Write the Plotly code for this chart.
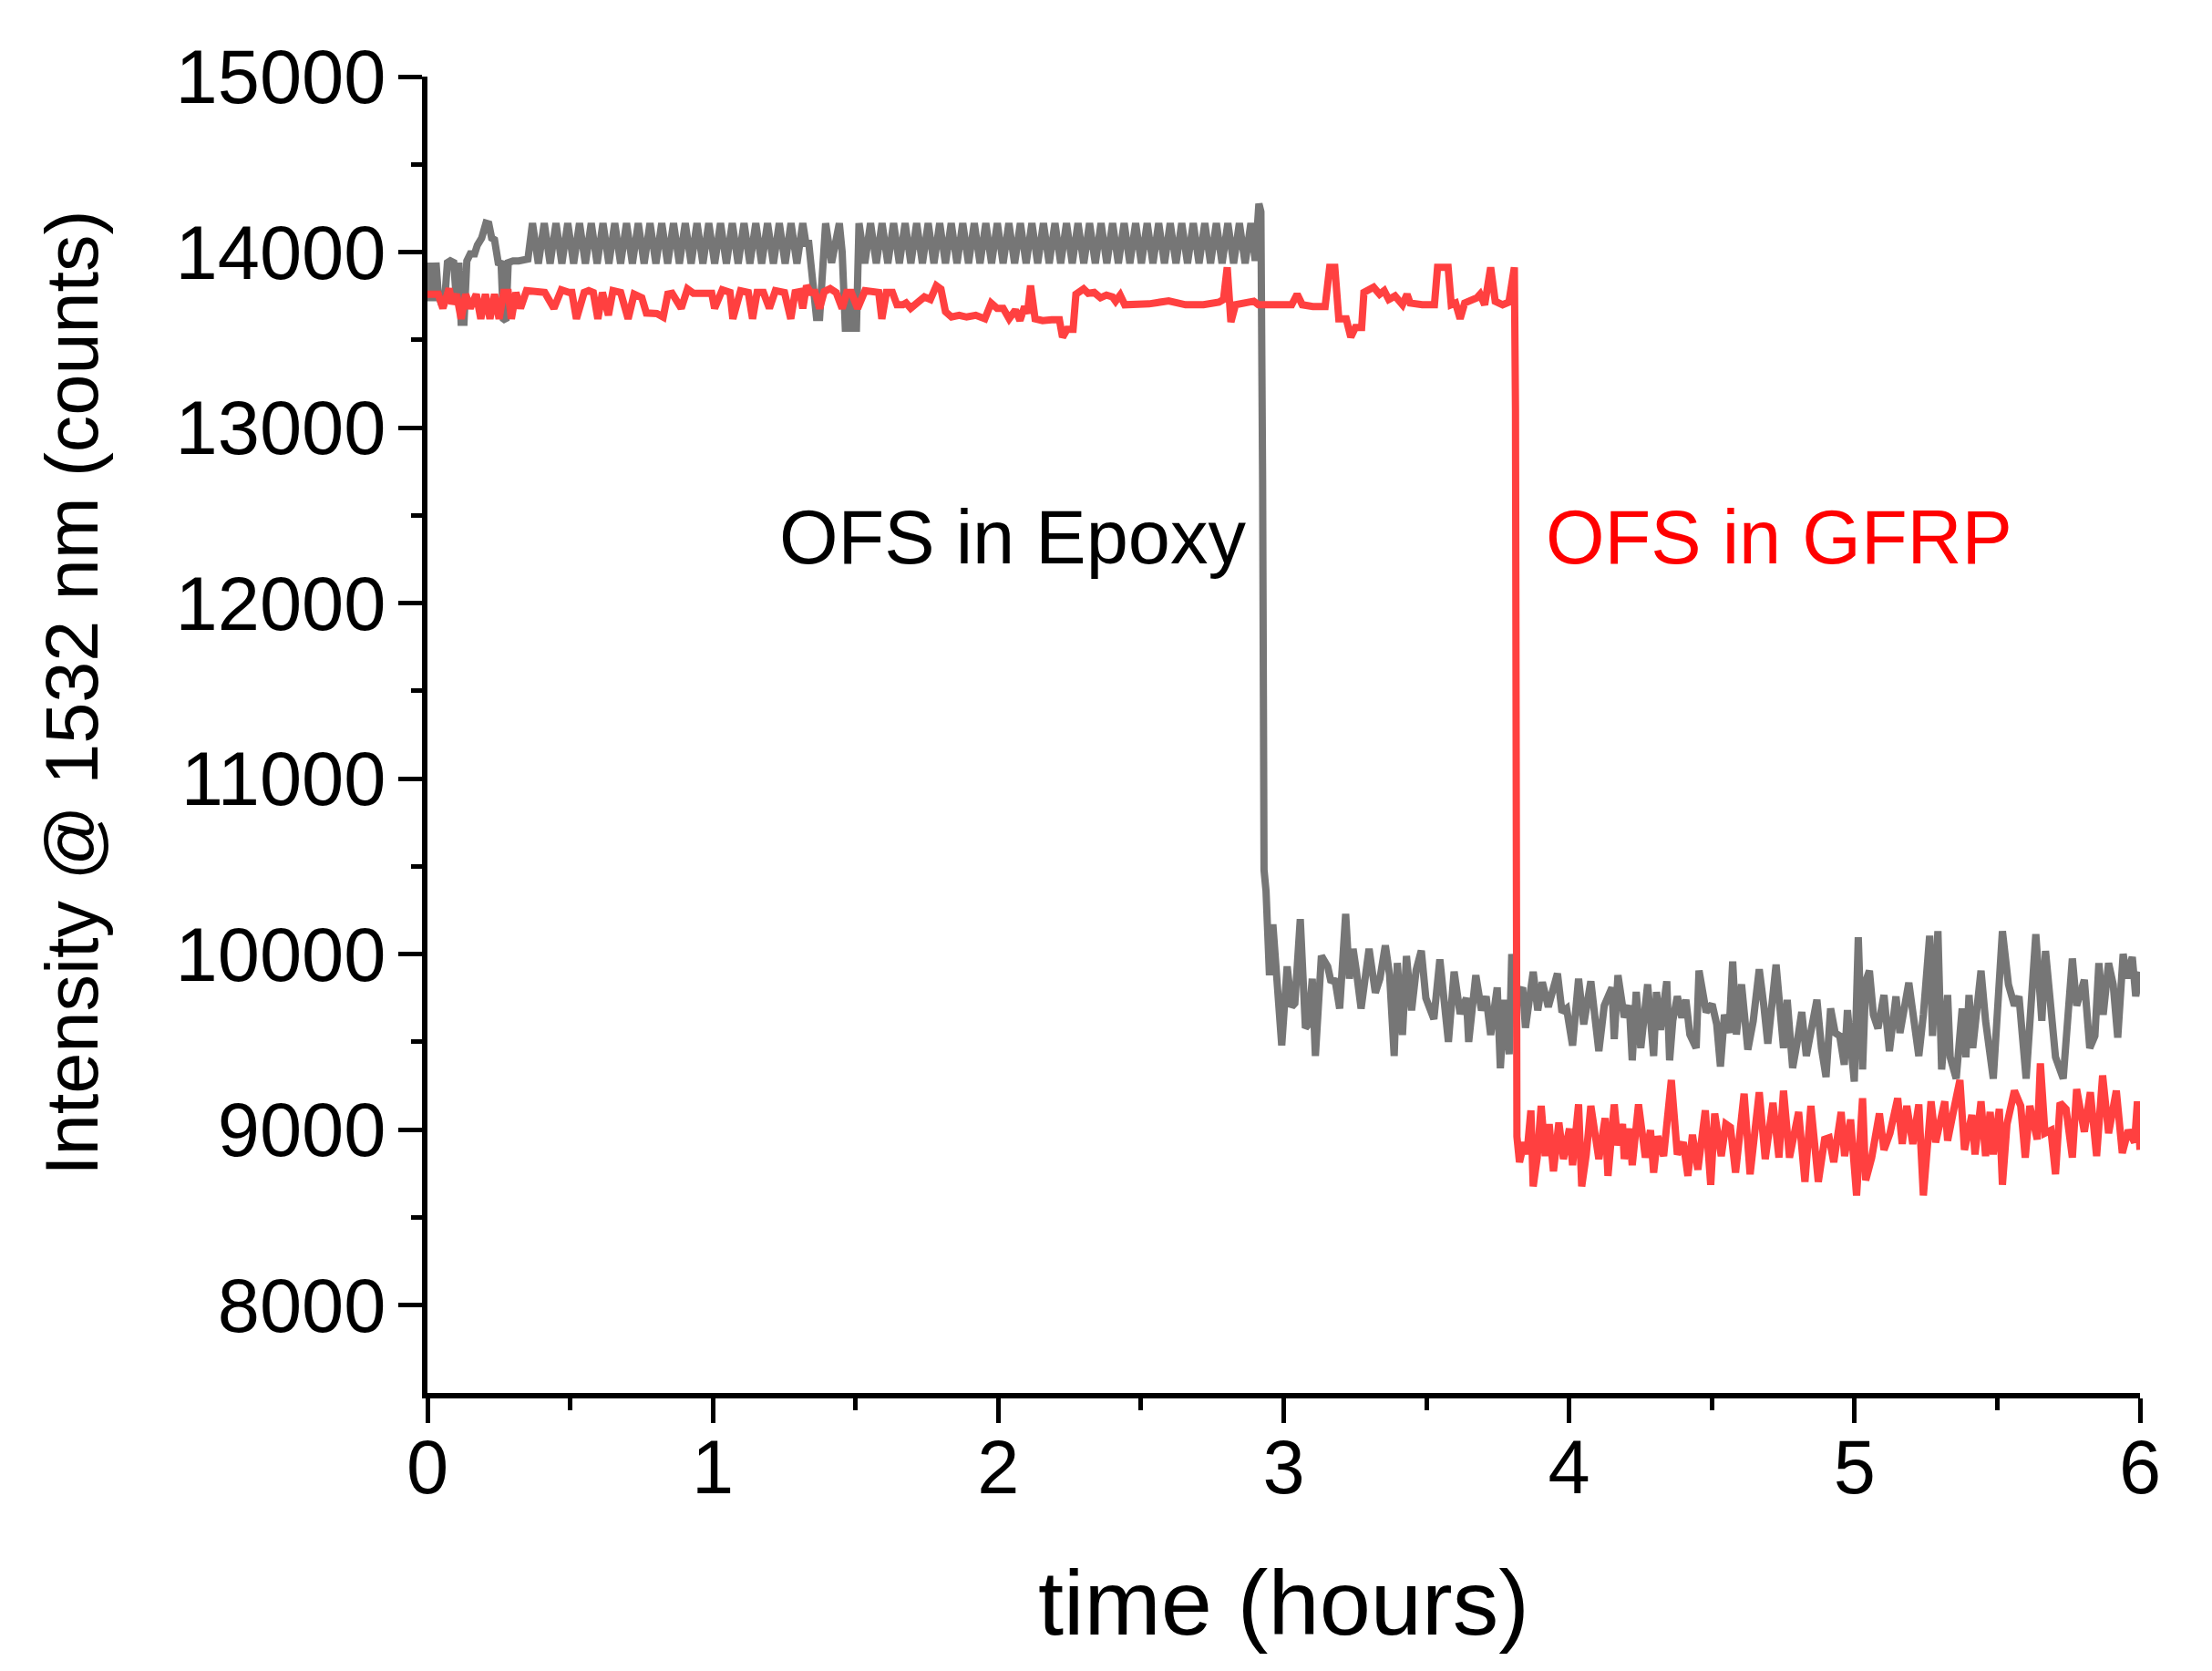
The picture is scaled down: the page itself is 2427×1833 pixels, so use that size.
import numpy as np
import plotly.graph_objects as go

# ---------------- OFS in Epoxy (gray trace) ----------------
epoxy_t_start = [0.000, 0.004, 0.009, 0.014, 0.019, 0.025, 0.030, 0.038, 0.050, 0.060,
                 0.070, 0.080, 0.092, 0.100, 0.110, 0.118, 0.128, 0.138, 0.150, 0.165,
                 0.175, 0.190, 0.205, 0.215, 0.225, 0.235, 0.248, 0.258, 0.266, 0.275,
                 0.283, 0.300, 0.320, 0.340, 0.352]
epoxy_v_start = [13900, 13720, 13940, 13720, 13940, 13720, 13940, 13760, 13700, 13720,
                 13940, 13950, 13940, 13760, 13940, 13600, 13600, 13950, 13990, 13990,
                 14040, 14080, 14165, 14160, 14080, 14070, 13940, 13935, 13620, 13610,
                 13940, 13950, 13950, 13950, 13960]

# evenly sampled oscillation 0.368 h -> 1.315 h
epoxy_osc1_span = (0.368, 1.315)
epoxy_osc1_v = [14165, 13935, 14165, 13935, 14165, 13935, 14165, 13935, 14165, 13935,
                14165, 13935, 14165, 13935, 14165, 13935, 14165, 13935, 14165, 13935,
                14165, 13935, 14165, 13935, 14165, 13935, 14165, 13935, 14165, 13935,
                14165, 13935, 14165, 13935, 14165, 13935, 14165, 13935, 14165, 13935,
                14165, 13935, 14165, 13935, 14165, 13935, 14165]

epoxy_t_mid = [1.326, 1.336, 1.352, 1.363, 1.374, 1.384, 1.395, 1.416, 1.443, 1.453,
               1.464, 1.478, 1.486, 1.494, 1.503]
epoxy_v_mid = [14050, 14050, 13800, 13627, 13627, 13950, 14164, 13939, 14164, 14000,
               13567, 13567, 13780, 13567, 13567]

# evenly sampled oscillation 1.512 h -> 2.885 h
epoxy_osc2_span = (1.512, 2.885)
epoxy_osc2_v = [14165, 13935, 14165, 13935, 14165, 13935, 14165, 13935, 14165, 13935,
                14165, 13935, 14165, 13935, 14165, 13935, 14165, 13935, 14165, 13935,
                14165, 13935, 14165, 13935, 14165, 13935, 14165, 13935, 14165, 13935,
                14165, 13935, 14165, 13935, 14165, 13935, 14165, 13935, 14165, 13935,
                14165, 13935, 14165, 13935, 14165, 13935, 14165, 13935, 14165, 13935,
                14165, 13935, 14165, 13935, 14165, 13935, 14165, 13935, 14165, 13935,
                14165, 13935, 14165, 13935, 14165, 13935, 14165, 13935, 14165]

epoxy_t_drop = [2.900, 2.913, 2.920, 2.926, 2.931]
epoxy_v_drop = [13950, 14276, 14230, 12700, 10480]

epoxy_t_low1 = [2.938, 2.950, 2.962, 2.975, 2.993, 3.012, 3.028, 3.039, 3.058, 3.076,
                3.087, 3.100, 3.111, 3.132, 3.154, 3.166, 3.179, 3.196, 3.217, 3.230,
                3.243, 3.254, 3.271, 3.299, 3.321, 3.337, 3.356, 3.371, 3.387, 3.398,
                3.416, 3.430, 3.448, 3.464, 3.482, 3.498, 3.526, 3.547, 3.562, 3.577,
                3.597, 3.618, 3.640, 3.648, 3.673, 3.693, 3.709, 3.725, 3.748, 3.759,
                3.773, 3.790, 3.799, 3.815, 3.837, 3.847, 3.874, 3.890, 3.906, 3.927]
epoxy_v_low1 = [10360, 9880, 10170, 9900, 9480, 9930, 9700, 9720, 10200, 9580,
                9600, 9860, 9420, 9990, 9930, 9840, 9860, 9690, 10230, 9860,
                10030, 9910, 9690, 10030, 9780, 9860, 10050, 9880, 9420, 9950,
                9540, 9990, 9680, 9910, 10020, 9750, 9630, 9970, 9690, 9500,
                9900, 9660, 9750, 9500, 9880, 9680, 9760, 9540, 9810, 9350,
                9740, 9430, 10000, 9750, 9810, 9580, 9900, 9680, 9840, 9700]

epoxy_t_low2 = [3.959, 3.975, 3.991, 4.012, 4.033, 4.051, 4.076, 4.104, 4.123, 4.150,
                4.158, 4.171, 4.193, 4.211, 4.221, 4.235, 4.251, 4.275, 4.296, 4.306,
                4.320, 4.342, 4.352, 4.363, 4.379, 4.395, 4.409, 4.423, 4.445, 4.455,
                4.480, 4.501, 4.517, 4.530, 4.544, 4.560, 4.573, 4.586, 4.604, 4.626,
                4.645, 4.666, 4.682, 4.696, 4.725, 4.751, 4.764, 4.783, 4.799, 4.815,
                4.831, 4.847, 4.868, 4.884, 4.900, 4.916, 4.932, 4.948, 4.964]
epoxy_v_low2 = [9890, 9670, 9690, 9480, 9860, 9600, 9845, 9447, 9707, 9810,
                9516, 9880, 9640, 9707, 9395, 9785, 9465, 9828, 9420, 9785,
                9568, 9845, 9395, 9620, 9760, 9638, 9740, 9542, 9465, 9906,
                9670, 9715, 9600, 9360, 9655, 9551, 9958, 9542, 9828, 9456,
                9620, 9914, 9707, 9490, 9940, 9465, 9740, 9352, 9499, 9670,
                9420, 9568, 9740, 9465, 9300, 9690, 9551, 9534, 9370]

epoxy_t_low3 = [4.975, 4.986, 4.999, 5.013, 5.028, 5.039, 5.052, 5.066, 5.082, 5.103,
                5.122, 5.145, 5.159, 5.190, 5.225, 5.241, 5.263, 5.273, 5.292, 5.305,
                5.326, 5.335, 5.356, 5.377, 5.390, 5.401, 5.414, 5.443, 5.459, 5.486,
                5.518, 5.539, 5.560, 5.576, 5.601, 5.635, 5.656, 5.669, 5.704, 5.731,
                5.763, 5.778, 5.805, 5.824, 5.842, 5.856, 5.871, 5.890, 5.906, 5.922,
                5.941, 5.954, 5.973, 5.985, 6.000]
epoxy_v_low3 = [9681, 9430, 9274, 10096, 9343, 9845, 9906, 9655, 9577, 9767,
                9447, 9759, 9551, 9837, 9420, 9655, 10105, 9534, 10131, 9343,
                9767, 9413, 9291, 9690, 9413, 9767, 9465, 9906, 9620, 9291,
                10131, 9828, 9707, 9759, 9291, 10114, 9620, 10018, 9413, 9291,
                9975, 9707, 9854, 9465, 9534, 9949, 9655, 9949, 9828, 9525,
                10001, 9863, 9984, 9760, 9900]

# ---------------- OFS in GFRP (red trace) ----------------
gfrp_t_1 = [0.000, 0.038, 0.054, 0.076, 0.086, 0.102, 0.118, 0.134, 0.150, 0.171,
            0.187, 0.203, 0.219, 0.235, 0.251, 0.267, 0.283, 0.294, 0.310, 0.326,
            0.347, 0.379, 0.411, 0.443, 0.469, 0.496, 0.506, 0.522, 0.549, 0.565,
            0.581, 0.597, 0.613, 0.634, 0.650, 0.677, 0.703, 0.724, 0.751, 0.767,
            0.804, 0.826, 0.842, 0.857, 0.889, 0.911, 0.932, 0.996, 1.006, 1.033,
            1.060, 1.070, 1.097, 1.124, 1.139, 1.155, 1.177, 1.198, 1.219, 1.251]
gfrp_v_1 = [13760, 13760, 13680, 13792, 13705, 13760, 13620, 13760, 13680, 13760,
            13620, 13760, 13620, 13760, 13620, 13770, 13770, 13620, 13770, 13680,
            13780, 13770, 13770, 13680, 13785, 13770, 13770, 13620, 13770, 13780,
            13770, 13620, 13770, 13640, 13780, 13770, 13620, 13760, 13740, 13653,
            13650, 13630, 13760, 13765, 13680, 13790, 13765, 13765, 13680, 13785,
            13770, 13620, 13780, 13770, 13620, 13770, 13770, 13680, 13780, 13770]

gfrp_t_2 = [1.273, 1.288, 1.304, 1.315, 1.328, 1.342, 1.358, 1.374, 1.390, 1.411,
            1.432, 1.453, 1.469, 1.485, 1.507, 1.533, 1.560, 1.581, 1.592, 1.608,
            1.629, 1.645, 1.666, 1.677, 1.693, 1.719, 1.741, 1.762, 1.783, 1.799,
            1.815, 1.836, 1.863, 1.889, 1.921, 1.953, 1.975, 1.996, 2.017, 2.038,
            2.060, 2.076, 2.092, 2.102, 2.113, 2.129, 2.155, 2.187, 2.214, 2.225,
            2.241, 2.262, 2.272, 2.299, 2.315, 2.336, 2.358, 2.379, 2.400, 2.411,
            2.427, 2.443, 2.475]
gfrp_v_2 = [13620, 13770, 13775, 13679, 13809, 13770, 13770, 13679, 13775, 13792,
            13770, 13679, 13770, 13770, 13679, 13780, 13770, 13770, 13620, 13770,
            13770, 13700, 13700, 13710, 13680, 13720, 13745, 13730, 13809, 13790,
            13660, 13630, 13640, 13630, 13640, 13620, 13710, 13680, 13680, 13620,
            13670, 13610, 13690, 13650, 13809, 13620, 13610, 13615, 13615, 13515,
            13560, 13560, 13760, 13790, 13765, 13770, 13740, 13755, 13745, 13720,
            13755, 13700, 13700]

gfrp_t_3 = [2.528, 2.597, 2.656, 2.719, 2.773, 2.789, 2.802, 2.815, 2.831, 2.895,
            2.911, 2.975, 3.028, 3.047, 3.065, 3.102, 3.145, 3.161, 3.179, 3.193,
            3.219, 3.235, 3.251, 3.273, 3.281, 3.315, 3.336, 3.352, 3.368, 3.390,
            3.416, 3.432, 3.443, 3.485, 3.528, 3.539, 3.576, 3.587, 3.602, 3.618,
            3.634, 3.677, 3.688, 3.704, 3.725, 3.741, 3.767, 3.789, 3.808, 3.812,
            3.817]
gfrp_v_3 = [13705, 13722, 13700, 13700, 13715, 13730, 13913, 13601, 13700, 13720,
            13700, 13700, 13700, 13760, 13700, 13690, 13690, 13913, 13913, 13620,
            13620, 13515, 13570, 13570, 13770, 13800, 13760, 13780, 13730, 13750,
            13700, 13760, 13710, 13700, 13700, 13913, 13913, 13700, 13710, 13620,
            13710, 13740, 13760, 13700, 13913, 13720, 13700, 13715, 13913, 13100,
            8960]

gfrp_t_4 = [3.826, 3.842, 3.852, 3.866, 3.874, 3.888, 3.902, 3.916, 3.930, 3.945,
            3.964, 3.980, 4.001, 4.012, 4.033, 4.044, 4.060, 4.076, 4.092, 4.104,
            4.126, 4.136, 4.158, 4.171, 4.187, 4.193, 4.211, 4.221, 4.243, 4.256,
            4.267, 4.285, 4.296, 4.310, 4.331, 4.358, 4.379, 4.400, 4.416, 4.432,
            4.451, 4.477, 4.496, 4.510, 4.533, 4.549, 4.565, 4.583, 4.613, 4.634,
            4.666, 4.687, 4.714, 4.735, 4.751, 4.772, 4.788, 4.804, 4.826, 4.847,
            4.873, 4.895, 4.911, 4.927, 4.953]
gfrp_v_4 = [8815, 8928, 8860, 9110, 8677, 8840, 9136, 8850, 9032, 8763,
            9040, 8833, 9006, 8798, 9144, 8677, 8859, 9136, 8962, 8833,
            9066, 8737, 9144, 8911, 9032, 8833, 9006, 8798, 9144, 8945,
            8841, 8997, 8755, 8962, 8850, 9283, 8859, 8928, 8737, 8971,
            8772, 9110, 8686, 9092, 8850, 9032, 9014, 8755, 9205, 8746,
            9213, 8833, 9153, 8841, 9222, 8841, 8980, 9101, 8703, 9136,
            8703, 8945, 8954, 8815, 9101]

gfrp_t_5 = [4.965, 4.986, 5.007, 5.028, 5.039, 5.060, 5.087, 5.103, 5.124, 5.151,
            5.167, 5.183, 5.204, 5.225, 5.241, 5.268, 5.284, 5.316, 5.326, 5.348,
            5.369, 5.385, 5.411, 5.422, 5.443, 5.459, 5.475, 5.486, 5.507, 5.518,
            5.534, 5.560, 5.582, 5.598, 5.614, 5.640, 5.651, 5.667, 5.688, 5.704,
            5.720, 5.741, 5.763, 5.778, 5.805, 5.826, 5.848, 5.869, 5.890, 5.917,
            5.938, 5.959, 5.981, 5.991, 6.000]
gfrp_v_5 = [8850, 9058, 8625, 9179, 8712, 8841, 9092, 8885, 8980, 9179,
            8919, 9136, 8919, 9144, 8625, 9161, 8928, 9161, 8937, 9118,
            9283, 8885, 9084, 8859, 9161, 8850, 9101, 8859, 9118, 8686,
            9032, 9222, 9136, 8841, 9136, 8945, 9378, 8980, 8997, 8746,
            9153, 9118, 8841, 9231, 8988, 9213, 8850, 9309, 8980, 9222,
            8867, 8997, 8928, 9161, 8885]

x_ticks = [0, 1, 2, 3, 4, 5, 6]
x_minor = [0.5, 1.5, 2.5, 3.5, 4.5, 5.5]
y_ticks = [8000, 9000, 10000, 11000, 12000, 13000, 14000, 15000]
y_minor = [8500, 9500, 10500, 11500, 12500, 13500, 14500]

# ---------------- assemble ----------------
osc1_t = np.linspace(epoxy_osc1_span[0], epoxy_osc1_span[1], len(epoxy_osc1_v))
osc2_t = np.linspace(epoxy_osc2_span[0], epoxy_osc2_span[1], len(epoxy_osc2_v))
epoxy_t = np.concatenate([epoxy_t_start, osc1_t, epoxy_t_mid, osc2_t, epoxy_t_drop,
                          epoxy_t_low1, epoxy_t_low2, epoxy_t_low3])
epoxy_v = np.concatenate([epoxy_v_start, epoxy_osc1_v, epoxy_v_mid, epoxy_osc2_v, epoxy_v_drop,
                          epoxy_v_low1, epoxy_v_low2, epoxy_v_low3])
gfrp_t = np.concatenate([gfrp_t_1, gfrp_t_2, gfrp_t_3, gfrp_t_4, gfrp_t_5])
gfrp_v = np.concatenate([gfrp_v_1, gfrp_v_2, gfrp_v_3, gfrp_v_4, gfrp_v_5])
assert len(epoxy_t) == len(epoxy_v) and len(gfrp_t) == len(gfrp_v)

FONT = "Liberation Sans, Arial, Helvetica, sans-serif"

fig = go.Figure()
fig.add_trace(go.Scatter(x=epoxy_t, y=epoxy_v, mode="lines", name="OFS in Epoxy",
                         line=dict(color="#767676", width=8)))
fig.add_trace(go.Scatter(x=gfrp_t, y=gfrp_v, mode="lines", name="OFS in GFRP",
                         line=dict(color="#FF4040", width=8)))

fig.add_annotation(x=2.053, y=12372, xref="x", yref="y", text="OFS in Epoxy",
                   showarrow=False, xanchor="center", yanchor="middle",
                   font=dict(family=FONT, size=83, color="black"))
fig.add_annotation(x=4.736, y=12372, xref="x", yref="y", text="OFS in GFRP",
                   showarrow=False, xanchor="center", yanchor="middle",
                   font=dict(family=FONT, size=83, color="#FF0000"))
# axis titles
fig.add_annotation(x=-0.2076, y=0.532, xref="paper", yref="paper",
                   text="Intensity @ 1532 nm (counts)", textangle=-90,
                   showarrow=False, xanchor="center", yanchor="middle",
                   font=dict(family=FONT, size=81, color="black"))
fig.add_annotation(x=0.5, y=-0.1593, xref="paper", yref="paper",
                   text="time (hours)", showarrow=False,
                   xanchor="center", yanchor="middle",
                   font=dict(family=FONT, size=101, color="black"))

# page body has an 8 px margin; figure size/margins compensate so the plot area
# lands at x 469-2348, y 84-1528 in the 2427x1833 window
fig.update_layout(
    width=2419, height=1825,
    margin=dict(l=461, r=79, t=76, b=305),
    paper_bgcolor="white", plot_bgcolor="white",
    showlegend=False,
    font=dict(family=FONT, color="black"),
)
fig.update_xaxes(range=[0, 6], tickvals=x_ticks, ticktext=[str(v) for v in x_ticks],
                 showgrid=False, zeroline=False,
                 showline=True, linewidth=6, linecolor="black",
                 ticks="outside", ticklen=27, tickwidth=5, tickcolor="black",
                 ticklabelstandoff=-23,
                 tickfont=dict(family=FONT, size=83, color="black"),
                 minor=dict(tickvals=x_minor, ticks="outside", ticklen=13,
                            tickwidth=5, tickcolor="black", showgrid=False))
fig.update_yaxes(range=[7500, 15000], tickvals=y_ticks, ticktext=[str(v) for v in y_ticks],
                 showgrid=False, zeroline=False,
                 showline=True, linewidth=6, linecolor="black",
                 ticks="outside", ticklen=26, tickwidth=5, tickcolor="black",
                 ticklabelstandoff=-3,
                 tickfont=dict(family=FONT, size=83, color="black"),
                 minor=dict(tickvals=y_minor, ticks="outside", ticklen=12,
                            tickwidth=5, tickcolor="black", showgrid=False))

fig.write_html("out.html")
